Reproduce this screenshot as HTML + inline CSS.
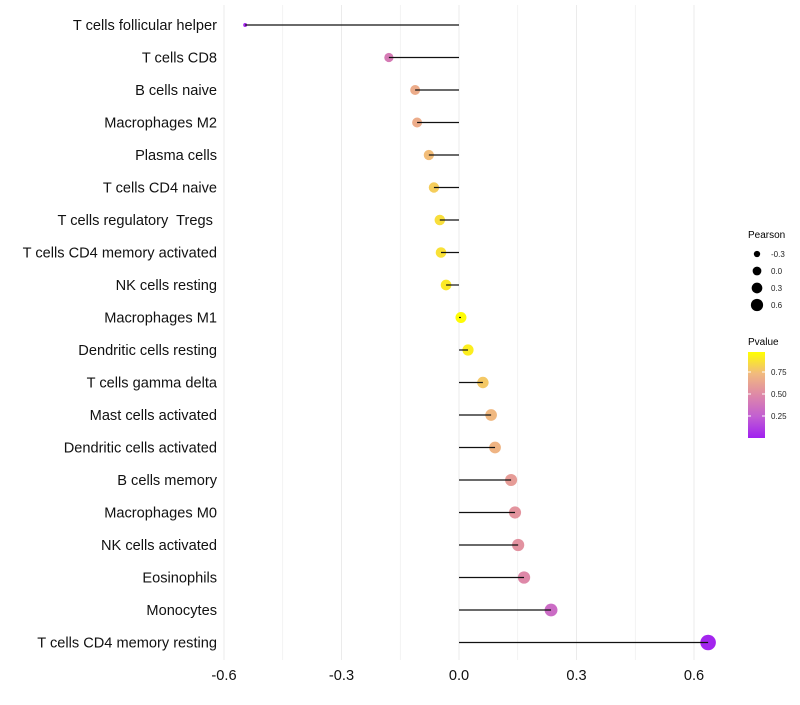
<!DOCTYPE html>
<html><head><meta charset="utf-8"><style>
body{margin:0;background:#fff;font-family:"Liberation Sans",Arial,sans-serif}
svg text{font-family:"Liberation Sans",Arial,sans-serif;white-space:pre}
</style></head><body>
<svg id="chart" width="800" height="700" xmlns="http://www.w3.org/2000/svg">
<defs><linearGradient id="pg" x1="0" y1="1" x2="0" y2="0">
<stop offset="0" stop-color="#A020F0"/><stop offset="0.25" stop-color="#C25FD2"/><stop offset="0.5" stop-color="#DE88A8"/><stop offset="0.75" stop-color="#F1BA7E"/><stop offset="1" stop-color="#FFFF00"/></linearGradient></defs>
<g id="grid"></g>
<g id="marks"></g>
<g id="ylabels"></g>
<g id="xlabels"></g>
<g>
<text x="748" y="238" font-size="10">Pearson</text>
<g id="sizeleg"></g>
</g>
<g>
<text x="748" y="345" font-size="10">Pvalue</text>
<rect x="748" y="352" width="17" height="86" fill="url(#pg)"/>
<g id="colleg"></g>
</g>
</svg>
<script>
const cells=["T cells follicular helper","T cells CD8","B cells naive","Macrophages M2","Plasma cells","T cells CD4 naive","T cells regulatory  Tregs ","T cells CD4 memory activated","NK cells resting","Macrophages M1","Dendritic cells resting","T cells gamma delta","Mast cells activated","Dendritic cells activated","B cells memory","Macrophages M0","NK cells activated","Eosinophils","Monocytes","T cells CD4 memory resting"];
const pearson=[-0.546,-0.179,-0.112,-0.107,-0.077,-0.064,-0.049,-0.046,-0.033,0.005,0.023,0.061,0.082,0.092,0.133,0.143,0.151,0.166,0.235,0.636];
const pvalue=[0.03,0.42,0.68,0.68,0.76,0.82,0.88,0.89,0.92,0.99,0.94,0.8,0.74,0.72,0.6,0.56,0.55,0.5,0.33,0.02];
const xTicks=[-0.6,-0.3,0.0,0.3,0.6];
const xTickLabels=["-0.6","-0.3","0.0","0.3","0.6"];
const sizeBreaks=[-0.3,0.0,0.3,0.6];
const sizeLabels=["-0.3","0.0","0.3","0.6"];
const colBreaks=[0.25,0.5,0.75];
const colLabels=["0.25","0.50","0.75"];

const NS="http://www.w3.org/2000/svg";
const x=v=>459+v*(117.5/0.3);
const y=i=>25+i*32.5;
const rad=v=>Math.sqrt(Math.max(2,30+48*v));
const stops=[[0,[160,32,240]],[0.25,[194,95,210]],[0.5,[222,136,168]],[0.75,[241,186,126]],[1,[255,255,0]]];
function col(p){const t=Math.max(0,Math.min(1,p));for(let k=1;k<stops.length;k++){if(t<=stops[k][0]){const a=stops[k-1],b=stops[k],f=(t-a[0])/(b[0]-a[0]);return "rgb("+a[1].map((c,j)=>Math.round(c+(b[1][j]-c)*f)).join(",")+")";}}return "rgb(255,255,0)";}
function mk(tag,attrs,parent){const e=document.createElementNS(NS,tag);for(const k in attrs)e.setAttribute(k,attrs[k]);parent.appendChild(e);return e;}
const grid=document.getElementById('grid');
for(let v=-0.6;v<=0.66;v+=0.15){const l=mk('line',{x1:x(v),x2:x(v),y1:5,y2:660,stroke:'#ebebeb','stroke-width':Math.abs(Math.round(v/0.3)*0.3-v)<0.01?1:0.6},grid);

}
const marks=document.getElementById('marks'),yl=document.getElementById('ylabels');
cells.forEach((c,i)=>{
 const p=mk('circle',{cx:x(pearson[i]),cy:y(i),r:rad(pearson[i]),fill:col(pvalue[i])},marks);
 
 
 const s=mk('line',{x1:x(0),x2:x(pearson[i]),y1:y(i),y2:y(i),stroke:'#111','stroke-width':1.2},marks);
 
 
 const t=mk('text',{x:217,y:y(i)+5,'text-anchor':'end','font-size':14.6,fill:'#111'},yl);t.textContent=c;
 
 
});
const xl=document.getElementById('xlabels');
xTicks.forEach((v,i)=>{const t=mk('text',{x:x(v),y:680,'text-anchor':'middle','font-size':14.6,fill:'#111'},xl);t.textContent=xTickLabels[i];

});
const sl=document.getElementById('sizeleg');
sizeBreaks.forEach((v,i)=>{const cy=254+i*17;const c=mk('circle',{cx:757,cy:cy,r:rad(v)*0.8,fill:'#000'},sl);


const t=mk('text',{x:771,y:cy+3,'font-size':8,fill:'#222'},sl);t.textContent=sizeLabels[i];

});
const cl=document.getElementById('colleg');
colBreaks.forEach((v,i)=>{const cy=438-v*88;mk('line',{x1:748,x2:751,y1:cy,y2:cy,stroke:'#fff'},cl);mk('line',{x1:762,x2:765,y1:cy,y2:cy,stroke:'#fff'},cl);
const t=mk('text',{x:771,y:cy+3,'font-size':8,fill:'#222'},cl);t.textContent=colLabels[i];

});
</script>
</body></html>
